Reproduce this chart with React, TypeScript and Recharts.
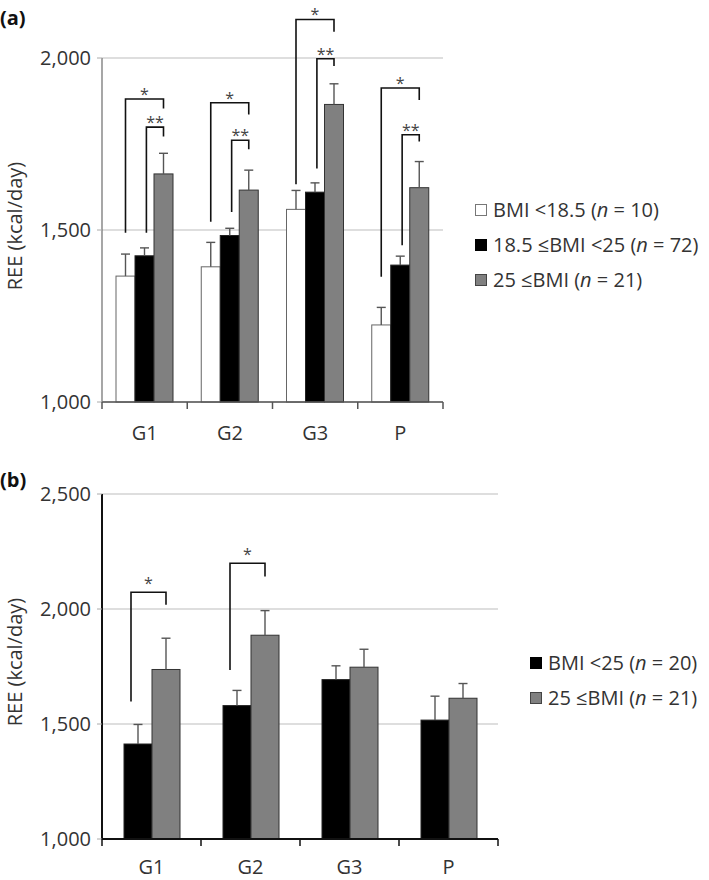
import React from "react";
import { BarChart, Bar, XAxis, YAxis, CartesianGrid } from "recharts";

// categories
const groups = ["G1", "G2", "G3", "P"];

// panel (a): three BMI classes, mean and SD
const underMean = [1366, 1393, 1560, 1224];
const underSd = [64, 71, 55, 51];
const normalMean = [1425, 1484, 1610, 1398];
const normalSd = [23, 21, 27, 26];
const overMean = [1663, 1616, 1865, 1623];
const overSd = [60, 58, 60, 76];

// panel (a) significance brackets (values in kcal/day)
const starFrom = [1492, 1524, 1633, 1364];
const starTop = [1881, 1870, 2112, 1913];
const starTo = [1853, 1836, 2076, 1878];
const dstarFrom = [1492, 1552, 1679, 1456];
const dstarTop = [1799, 1761, 1998, 1777];
const dstarTo = [1772, 1735, 1977, 1757];

// panel (b): two BMI classes
const lowMean = [1413, 1580, 1693, 1517];
const lowSd = [85, 66, 60, 104];
const highMean = [1737, 1886, 1747, 1612];
const highSd = [136, 107, 78, 64];
const bStarFrom = [1598, 1735, null, null];
const bStarTop = [2073, 2199, null, null];
const bStarTo = [2018, 2141, null, null];

const ticksA = [1000, 1500, 2000];
const ticksB = [1000, 1500, 2000, 2500];

const dataA = groups.map((name, i) => ({
  name,
  under: underMean[i],
  underSd: underSd[i],
  normal: normalMean[i],
  normalSd: normalSd[i],
  over: overMean[i],
  overSd: overSd[i],
  sFrom: starFrom[i],
  sTop: starTop[i],
  sTo: starTo[i],
  dFrom: dstarFrom[i],
  dTop: dstarTop[i],
  dTo: dstarTo[i],
}));

const dataB = groups.map((name, i) => ({
  name,
  low: lowMean[i],
  lowSd: lowSd[i],
  high: highMean[i],
  highSd: highSd[i],
  sFrom: bStarFrom[i],
  sTop: bStarTop[i],
  sTo: bStarTo[i],
}));

const FONT = "'Open Sans', 'DejaVu Sans', sans-serif";
const TEXT = "#333";

// chart boxes
const A_H = 450, A_MB = 8, A_XH = 40;
const B_H = 430, B_MB = 5, B_XH = 36;

type Bracket = {
  fromKey: string;
  topKey: string;
  toKey: string;
  label: string;
  span: number;
  leftFrac: number;
  textDy: number;
};

function makeShape(
  valueKey: string,
  errKey: string,
  fill: string,
  stroke: string,
  min: number,
  brackets: Bracket[] = []
) {
  return (props: any) => {
    const { x, y, width, height, payload } = props;
    const v = payload[valueKey];
    const k = height / (v - min);
    const base = y + height;
    const py = (val: number) => base - (val - min) * k;
    const cx = x + width / 2;
    const eTop = py(v + payload[errKey]);
    return (
      <g>
        <rect x={x} y={y} width={width} height={height} fill={fill} stroke={stroke} strokeWidth={1} />
        <line x1={cx} x2={cx} y1={y} y2={eTop} stroke="#555" strokeWidth={1.4} />
        <line x1={cx - 4.5} x2={cx + 4.5} y1={eTop} y2={eTop} stroke="#555" strokeWidth={1.4} />
        {brackets.map((b, j) => {
          if (payload[b.topKey] == null) return null;
          const lx = x - b.span * width + b.leftFrac * width;
          const rx = cx;
          const ty = py(payload[b.topKey]);
          return (
            <g key={j}>
              <path
                d={`M${lx},${py(payload[b.fromKey])} V${ty} H${rx} V${py(payload[b.toKey])}`}
                fill="none"
                stroke="#111"
                strokeWidth={1.6}
              />
              <text
                x={(lx + rx) / 2}
                y={ty + b.textDy}
                textAnchor="middle"
                fontSize={16}
                fill="#444"
                fontFamily={FONT}
              >
                {b.label}
              </text>
            </g>
          );
        })}
      </g>
    );
  };
}

function makeTick(plotW: number, axisY: number, labelDy: number, axisColor: string) {
  return (props: any) => {
    const { x, payload, index, visibleTicksCount } = props;
    const n = visibleTicksCount || groups.length;
    const band = plotW / n;
    const left = x - band / 2;
    return (
      <g>
        <line x1={left} x2={left} y1={axisY} y2={axisY + 7} stroke={axisColor} strokeWidth={1.5} />
        {index === n - 1 && (
          <line x1={left + band} x2={left + band} y1={axisY} y2={axisY + 7} stroke={axisColor} strokeWidth={1.5} />
        )}
        <text x={x} y={axisY + labelDy} textAnchor="middle" dominantBaseline="central" fontSize={20} fill={TEXT} fontFamily={FONT}>
          {payload.value}
        </text>
      </g>
    );
  };
}

const yLabel = (cy: number) => (props: any) => (
  <text
    x={14}
    y={cy}
    transform={`rotate(-90, 14, ${cy})`}
    textAnchor="middle"
    dominantBaseline="central"
    fontSize={20}
    fill={TEXT}
    fontFamily={FONT}
  >
    REE (kcal/day)
  </text>
);

const fmt = (v: number) => v.toLocaleString("en-US");

function Swatch({ color, border }: { color: string; border: string }) {
  return (
    <span
      style={{
        display: "inline-block",
        width: 10,
        height: 10,
        background: color,
        border: `1px solid ${border}`,
        marginRight: 6,
        verticalAlign: "middle",
        position: "relative",
        top: -2,
      }}
    />
  );
}

function LegendRow({ color, border, pre, n }: { color: string; border: string; pre: string; n: number }) {
  return (
    <div style={{ height: 35, lineHeight: "35px", whiteSpace: "nowrap" }}>
      <Swatch color={color} border={border} />
      {pre} (<i>n</i> = {n})
    </div>
  );
}

const underShape = makeShape("under", "underSd", "#fff", "#666", 1000);
const normalShape = makeShape("normal", "normalSd", "#000", "#222", 1000);
const overShape = makeShape("over", "overSd", "#808080", "#333", 1000, [
  { fromKey: "sFrom", topKey: "sTop", toKey: "sTo", label: "*", span: 2, leftFrac: 0.5, textDy: 1 },
  { fromKey: "dFrom", topKey: "dTop", toKey: "dTo", label: "**", span: 1, leftFrac: 0.6, textDy: 1 },
]);
const lowShape = makeShape("low", "lowSd", "#000", "#222", 1000);
const highShape = makeShape("high", "highSd", "#808080", "#333", 1000, [
  { fromKey: "sFrom", topKey: "sTop", toKey: "sTo", label: "*", span: 1, leftFrac: 0.25, textDy: -3 },
]);

export default function App() {
  return (
    <div
      style={{
        position: "absolute",
        left: 0,
        top: 0,
        width: 709,
        height: 880,
        background: "#fff",
        fontFamily: FONT,
        color: TEXT,
        fontSize: 20,
      }}
    >
      <div style={{ position: "absolute", left: 0, top: 4, fontWeight: 700, fontSize: 20, color: "#111" }}>(a)</div>
      <div style={{ position: "absolute", left: 0, top: 0 }}>
        <BarChart
          width={709}
          height={A_H}
          data={dataA}
          margin={{ top: 58, right: 266, bottom: A_MB, left: 42 }}
          barGap={0}
          barSize={19}
        >
          <CartesianGrid vertical={false} stroke="#bdbdbd" strokeWidth={1.2} />
          <XAxis
            dataKey="name"
            height={A_XH}
            interval={0}
            tickLine={false}
            axisLine={{ stroke: "#555", strokeWidth: 1.5 }}
            tick={makeTick(341, A_H - A_MB - A_XH, 30, "#555")}
          />
          <YAxis
            width={60}
            domain={[1000, 2000]}
            ticks={ticksA}
            axisLine={{ stroke: "#777", strokeWidth: 1.3 }}
            tickLine={{ stroke: "#aaa" }}
            tickSize={5}
            tickMargin={6}
            tickFormatter={fmt}
            tick={{ fontSize: 20, fill: TEXT, fontFamily: FONT }}
            label={{ content: yLabel(226) } as any}
          />
          <Bar dataKey="under" shape={underShape} isAnimationActive={false} />
          <Bar dataKey="normal" shape={normalShape} isAnimationActive={false} />
          <Bar dataKey="over" shape={overShape} isAnimationActive={false} />
        </BarChart>
      </div>
      <div style={{ position: "absolute", left: 475, top: 192 }}>
        <LegendRow color="#fff" border="#777" pre="BMI <18.5" n={10} />
        <LegendRow color="#000" border="#000" pre="18.5 ≤BMI <25" n={72} />
        <LegendRow color="#808080" border="#444" pre="25 ≤BMI" n={21} />
      </div>

      <div style={{ position: "absolute", left: 0, top: 466, fontWeight: 700, fontSize: 20, color: "#111" }}>(b)</div>
      <div style={{ position: "absolute", left: 0, top: 450 }}>
        <BarChart
          width={709}
          height={B_H}
          data={dataB}
          margin={{ top: 44, right: 211, bottom: B_MB, left: 42 }}
          barGap={0}
          barSize={28}
        >
          <CartesianGrid vertical={false} stroke="#bdbdbd" strokeWidth={1.2} />
          <XAxis
            dataKey="name"
            height={B_XH}
            interval={0}
            tickLine={false}
            axisLine={{ stroke: "#111", strokeWidth: 2 }}
            tick={makeTick(396, B_H - B_MB - B_XH, 27, "#111")}
          />
          <YAxis
            width={60}
            domain={[1000, 2500]}
            ticks={ticksB}
            axisLine={{ stroke: "#111", strokeWidth: 2 }}
            tickLine={{ stroke: "#aaa" }}
            tickSize={5}
            tickMargin={6}
            tickFormatter={fmt}
            tick={{ fontSize: 20, fill: TEXT, fontFamily: FONT }}
            label={{ content: yLabel(212) } as any}
          />
          <Bar dataKey="low" shape={lowShape} isAnimationActive={false} />
          <Bar dataKey="high" shape={highShape} isAnimationActive={false} />
        </BarChart>
      </div>
      <div style={{ position: "absolute", left: 530, top: 645 }}>
        <LegendRow color="#000" border="#000" pre="BMI <25" n={20} />
        <LegendRow color="#808080" border="#444" pre="25 ≤BMI" n={21} />
      </div>
    </div>
  );
}
